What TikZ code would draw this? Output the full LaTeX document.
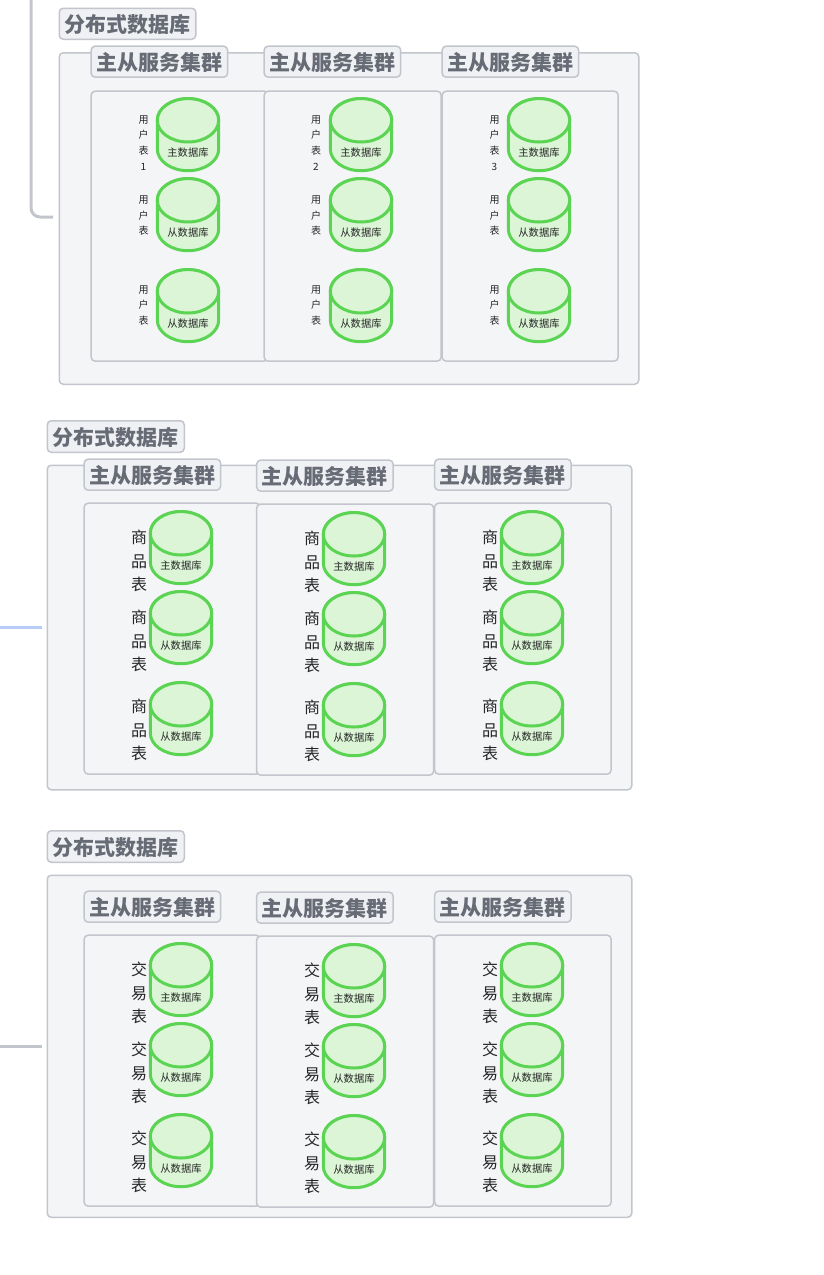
\documentclass[tikz,border=0pt]{standalone}
\usepackage{fontspec}
\setmainfont{Noto Sans CJK SC}
\newcommand{\lowered}[1]{\raisebox{-0.9pt}[0.88em][0.12em]{#1}}
\newcommand{\cylnode}[4]{% name, cx, top y, label
  \path[cylstyle] (#2-30.7,#3+22.3) -- (#2-30.7,#3+51) arc[start angle=180,end angle=0,x radius=30.7,y radius=21.7] -- (#2+30.7,#3+22.3) arc[start angle=0,end angle=-180,x radius=30.7,y radius=21.7] -- cycle;
  \path[cylstyle] (#2,#3+22.3) ellipse[x radius=30.7,y radius=21.7];
  \node[cyllabel] (#1) at (#2,#3+54.3) {#4};
}
\newcommand{\clusterbox}[7]{% name, x, y top box, width, height, title top, labels
  \node[outerbox,anchor=north west,minimum width=#4,minimum height=#5] (#1box) at (#2-0.6,#3-0.6) {};
  \node[titlebox,anchor=north west,minimum width=136.5,minimum height=31] (#1title) at (#2-0.6,#6-0.6) {\lowered{主从服务集群}};
  #7
}
\tikzset{
  x=1pt,y=-1pt,
  cylstyle/.style={draw=cylgreen,line width=3pt,fill=cylfill},
  cyllabel/.style={font=\fontsize{10.3}{12}\selectfont,text=black!85,inner sep=0pt},
  outerbox/.style={draw=boxline,line width=1.5pt,fill=boxfill,rounded corners=4pt,inner sep=0pt},
  titlebox/.style={draw=boxline,line width=1.5pt,fill=titlefill,rounded corners=4pt,inner sep=0pt,text=titletext,font=\fontsize{21}{24}\selectfont\bfseries},
  smalltab/.style={font=\fontsize{10}{15.7}\selectfont,align=center,inner sep=0pt,text=black!85},
  bigtab/.style={font=\fontsize{16}{23.5}\selectfont,align=center,inner sep=0pt,text=black!85},
  conn/.style={draw=boxline,line width=3pt,rounded corners=9pt},
}
\definecolor{cylgreen}{HTML}{5CD453}
\definecolor{cylfill}{HTML}{DBF5D6}
\definecolor{boxline}{HTML}{C3C5CC}
\definecolor{boxfill}{HTML}{F4F5F7}
\definecolor{titlefill}{HTML}{F0F1F4}
\definecolor{titletext}{HTML}{666B75}
\definecolor{bluelink}{HTML}{B7CCF7}
\newcommand{\colsmall}[6]{% prefix, tab x, cyl x, first label, tab no, yoff
  \node[smalltab] (#1ta) at (#2,142.8) {用\\户\\表\\#5};
  \cylnode{#1c1}{#3}{98}{主数据库}
  \node[smalltab] (#1tb) at (#2,215.8) {用\\户\\表};
  \cylnode{#1c2}{#3}{178}{从数据库}
  \node[smalltab] (#1tc) at (#2,305.3) {用\\户\\表};
  \cylnode{#1c3}{#3}{269}{从数据库}
}
\newcommand{\colbig}[4]{% prefix, tab x, cyl x, top of first cyl
  \node[bigtab] (#1ta) at (#2,#4+50) {商\\品\\表};
  \cylnode{#1c1}{#3}{#4}{主数据库}
  \node[bigtab] (#1tb) at (#2,#4+130) {商\\品\\表};
  \cylnode{#1c2}{#3}{#4+80}{从数据库}
  \node[bigtab] (#1tc) at (#2,#4+219) {商\\品\\表};
  \cylnode{#1c3}{#3}{#4+171}{从数据库}
}
\newcommand{\colbigj}[4]{%
  \node[bigtab] (#1ta) at (#2,#4+50) {交\\易\\表};
  \cylnode{#1c1}{#3}{#4}{主数据库}
  \node[bigtab] (#1tb) at (#2,#4+130) {交\\易\\表};
  \cylnode{#1c2}{#3}{#4+80}{从数据库}
  \node[bigtab] (#1tc) at (#2,#4+219) {交\\易\\表};
  \cylnode{#1c3}{#3}{#4+171}{从数据库}
}
\begin{document}
\begin{tikzpicture}
\useasboundingbox (0,0) rectangle (823,1275);
\fill[white] (0,0) rectangle (823,1275);
% connectors
\coordinate (l1a) at (31,-3);
\coordinate (l1b) at (53,217);
\coordinate (l2a) at (-2,627);
\coordinate (l2b) at (42,627);
\coordinate (l3a) at (-2,1046);
\coordinate (l3b) at (42,1046);
\draw[conn] (l1a) |- (l1b);
\draw[conn,draw=bluelink] (l2a) -- (l2b);
\draw[conn] (l3a) -- (l3b);

% group 1
\node[outerbox,anchor=north west,minimum width=579.5,minimum height=331.5] (g1) at (58.5,52) {};
\node[titlebox,anchor=north west,minimum width=136.5,minimum height=31] (g1t) at (58.5,7.5) {\lowered{分布式数据库}};
\clusterbox{a}{91}{91}{177}{270}{46}{}
\clusterbox{b}{264}{91}{177}{270}{46}{}
\clusterbox{c}{442}{91}{176}{270}{46}{}
\colsmall{a}{143.5}{188}{}{1}{}
\colsmall{b}{316}{361}{}{2}{}
\colsmall{c}{494.5}{539}{}{3}{}

% group 2
\node[outerbox,anchor=north west,minimum width=584.5,minimum height=324.5] (g2) at (46.5,464.5) {};
\node[titlebox,anchor=north west,minimum width=137,minimum height=31.5] (g2t) at (46.5,420) {\lowered{分布式数据库}};
\clusterbox{d}{84}{503}{176}{271}{459}{}
\clusterbox{e}{256.5}{504}{177}{271}{460}{}
\clusterbox{f}{434.5}{503}{176.5}{271}{459}{}
\colbig{d}{139}{181}{511}
\colbig{e}{312}{354}{512}
\colbig{f}{490}{532}{511}

% group 3
\node[outerbox,anchor=north west,minimum width=584.5,minimum height=342] (g3) at (46.5,874.5) {};
\node[titlebox,anchor=north west,minimum width=137,minimum height=31.5] (g3t) at (46.5,830) {\lowered{分布式数据库}};
\clusterbox{g}{84}{935}{176}{271}{891}{}
\clusterbox{h}{256.5}{936}{177}{271}{892}{}
\clusterbox{i}{434.5}{935}{176.5}{271}{891}{}
\colbigj{g}{139}{181}{943}
\colbigj{h}{312}{354}{944}
\colbigj{i}{490}{532}{943}
\end{tikzpicture}
\end{document}
